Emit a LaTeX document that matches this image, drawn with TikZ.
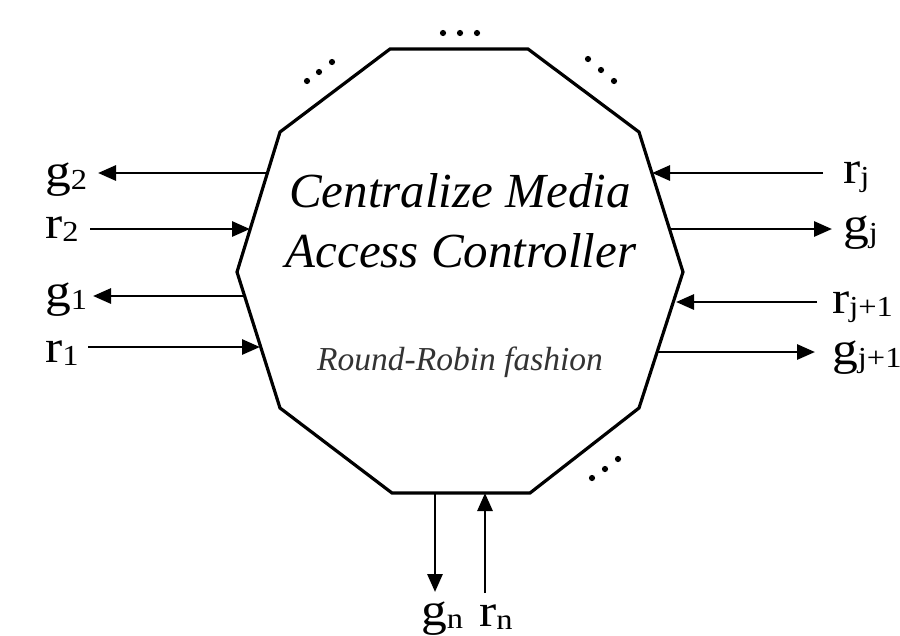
\documentclass[tikz,border=0pt]{standalone}
\usepackage{fontspec}
\setmainfont{Liberation Serif}
\usetikzlibrary{arrows.meta}
\newcommand\sublab[2]{\scalebox{1.12}[1]{#1\raisebox{-3pt}{\fontsize{29}{29}\selectfont #2}}}
\tikzset{
  poly/.style={line width=3.2pt, line join=miter},
  arr/.style={line width=2.9pt, -{Triangle[length=18pt,width=15pt]}},
  lab/.style={inner sep=0pt, font=\fontsize{46}{46}\selectfont},
  dotc/.style={fill=black, draw=none},
  title/.style={inner sep=0pt, anchor=base, font=\fontsize{49}{51}\selectfont\itshape},
  sub/.style={inner sep=0pt, anchor=base, text=black!80, font=\fontsize{33.5}{35}\selectfont\itshape}
}
\begin{document}
\begin{tikzpicture}[x=1pt,y=-1pt]
\useasboundingbox (0,0) rectangle (900,635);
% polygon vertices
\coordinate (v1) at (390,49);
\coordinate (v2) at (528,49);
\coordinate (v3) at (639,132);
\coordinate (v4) at (683,272);
\coordinate (v5) at (639,408);
\coordinate (v6) at (530,493);
\coordinate (v7) at (392,493);
\coordinate (v8) at (280,408);
\coordinate (v9) at (237,272);
\coordinate (v10) at (280,132);
\draw[poly] (v1) -- (v2) -- (v3) -- (v4) -- (v5) -- (v6) -- (v7) -- (v8) -- (v9) -- (v10) -- cycle;

% texts
\node[title] (t1) at (460,207) {Centralize Media};
\node[title] (t2) at (461,267) {Access Controller};
\node[sub] (t3) at (460,370) {Round-Robin fashion};

% dots
\foreach \x/\y in {443/33,460/33,477/33, 307/81,319/72,332/62, 588/59,601/70,614/81, 592/478,605/469,618/459}
  \fill[dotc] (\x,\y) circle (3.1pt);

% labels
\node[lab, anchor=base west] (g2) at (45,186) {\sublab{g}{2}};
\node[lab, anchor=base west] (r2) at (45,238) {\sublab{r}{2}};
\node[lab, anchor=base west] (g1) at (45,306) {\sublab{g}{1}};
\node[lab, anchor=base west] (r1) at (45,362) {\sublab{r}{1}};
\node[lab, anchor=base west] (rj) at (843,183) {\sublab{r}{j}};
\node[lab, anchor=base west] (gj) at (843,239) {\sublab{g}{j}};
\node[lab, anchor=base west] (rj1) at (832,313) {\sublab{r}{j+1}};
\node[lab, anchor=base west] (gj1) at (832,364) {\sublab{g}{j+1}};
\node[lab, anchor=base west] (gn) at (421,625) {\sublab{g}{n}};
\node[lab, anchor=base west] (rn) at (479,626) {\sublab{r}{n}};

% arrow endpoints
\coordinate (pg2) at (267,173);  \coordinate (eg2) at (98,173);
\coordinate (er2) at (90,229);   \coordinate (pr2) at (250,229);
\coordinate (pg1) at (244,296);  \coordinate (eg1) at (93,296);
\coordinate (er1) at (88,347);   \coordinate (pr1) at (260,347);
\coordinate (erj) at (823,173);  \coordinate (prj) at (652,173);
\coordinate (pgj) at (669,229);  \coordinate (egj) at (832,229);
\coordinate (erj1) at (817,302); \coordinate (prj1) at (676,302);
\coordinate (pgj1) at (657,352); \coordinate (egj1) at (815,352);
\coordinate (pgn) at (435,493);  \coordinate (egn) at (435,592);
\coordinate (ern) at (485,593);  \coordinate (prn) at (485,493);

\draw[arr] (pg2) -- (eg2);
\draw[arr] (er2) -- (pr2);
\draw[arr] (pg1) -- (eg1);
\draw[arr] (er1) -- (pr1);
\draw[arr] (erj) -- (prj);
\draw[arr] (pgj) -- (egj);
\draw[arr] (erj1) -- (prj1);
\draw[arr] (pgj1) -- (egj1);
\draw[arr] (pgn) -- (egn);
\draw[arr] (ern) -- (prn);
\end{tikzpicture}
\end{document}
